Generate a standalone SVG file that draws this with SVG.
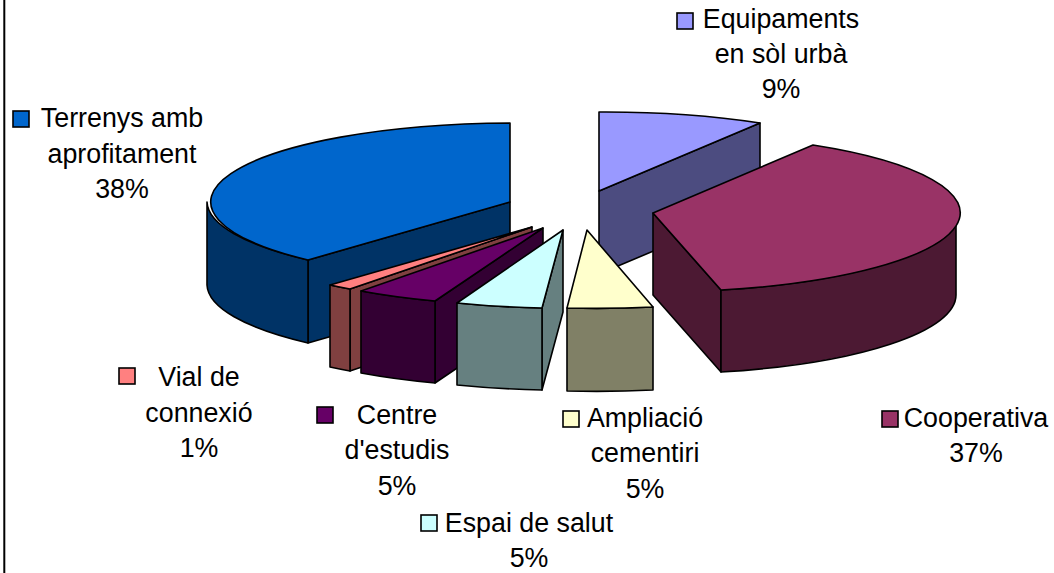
<svg xmlns="http://www.w3.org/2000/svg" width="1054" height="573" viewBox="0 0 1054 573">
<style>
.e{stroke:#000;stroke-width:1.6;stroke-linejoin:round}
.sq{stroke:#000;stroke-width:1.6}
text{font-family:"Liberation Sans",Arial,sans-serif;font-size:26.8px;fill:#000;text-anchor:middle}
</style>
<rect width="1054" height="573" fill="#fff"/>
<line x1="4.3" y1="0" x2="4.3" y2="573" stroke="#000" stroke-width="2"/>

<g id="slice-equipaments">
<polygon class="e" fill="#4C4C80" points="599,191 760,123 760,206 599,274"/>
<path class="e" fill="#9999FF" d="M599,191 L599,112 A303 79 0 0 1 760,123 Z"/>
</g>

<g id="slice-terrenys">
<polygon class="e" fill="#003366" points="510,202 308,260 308,343 510,285"/>
<path class="e" fill="#003366" d="M207,202 A303 79 0 0 0 308,260 L308,343 A303 79 0 0 1 207,285 Z"/>
<path class="e" fill="#0066CC" d="M510,202 L510,123 A303 79 0 0 0 308,260 Z"/>
</g>

<g id="slice-cooperativa">
<polygon class="e" fill="#4C1933" points="653,213 721,290 721,372 653,295"/>
<path class="e" fill="#4C1933" d="M956,213 A303 79 0 0 1 721,290 L721,372 A303 79 0 0 0 956,295 Z"/>
<path class="e" fill="#993366" d="M653,213 L813,145 A303 79 0 0 1 721,290 Z"/>
</g>

<g id="slice-vial">
<polygon class="e" fill="#804040" points="532,227 350,289 350,371 532,309"/>
<path class="e" fill="#804040" d="M350,289 A303 79 0 0 1 330,285 L330,367 A303 79 0 0 0 350,371 Z"/>
<path class="e" fill="#FF8080" d="M532,227 L350,289 A303 79 0 0 1 330,285 Z"/>
</g>

<g id="slice-centre">
<polygon class="e" fill="#330033" points="543,228 435,301 435,383 543,310"/>
<path class="e" fill="#330033" d="M435,301 A303 79 0 0 1 361,291 L361,373 A303 79 0 0 0 435,383 Z"/>
<path class="e" fill="#660066" d="M543,228 L435,301 A303 79 0 0 1 361,291 Z"/>
</g>

<g id="slice-espai">
<polygon class="e" fill="#668080" points="563,230 542,308 542,390 563,312"/>
<path class="e" fill="#668080" d="M542,308 A303 79 0 0 1 457,303 L457,385 A303 79 0 0 0 542,390 Z"/>
<path class="e" fill="#CCFFFF" d="M563,230 L542,308 A303 79 0 0 1 457,303 Z"/>
</g>

<g id="slice-ampliacio">
<path class="e" fill="#808066" d="M653,307 A303 79 0 0 1 567,308 L567,391 A303 79 0 0 0 653,390 Z"/>
<path class="e" fill="#FFFFCC" d="M587,230 L653,307 A303 79 0 0 1 567,308 Z"/>
</g>

<g id="label-terrenys">
<rect class="sq" x="13" y="111" width="16" height="16" fill="#0066CC"/>
<text x="122" y="127">Terrenys amb</text>
<text x="122" y="163">aprofitament</text>
<text x="122" y="198">38%</text>
</g>

<g id="label-equipaments">
<rect class="sq" x="677" y="13" width="16" height="16" fill="#9999FF"/>
<text x="781" y="28">Equipaments</text>
<text x="781" y="63">en sòl urbà</text>
<text x="781" y="98">9%</text>
</g>

<g id="label-vial">
<rect class="sq" x="119" y="368" width="16" height="16" fill="#FF8080"/>
<text x="199" y="386">Vial de</text>
<text x="199" y="422">connexió</text>
<text x="199" y="457">1%</text>
</g>

<g id="label-centre">
<rect class="sq" x="317" y="407" width="16" height="16" fill="#660066"/>
<text x="397" y="424">Centre</text>
<text x="397" y="459">d'estudis</text>
<text x="397" y="495">5%</text>
</g>

<g id="label-ampliacio">
<rect class="sq" x="563" y="411" width="16" height="16" fill="#FFFFCC"/>
<text x="645" y="427">Ampliació</text>
<text x="645" y="462">cementiri</text>
<text x="645" y="498">5%</text>
</g>

<g id="label-espai">
<rect class="sq" x="421" y="515" width="16" height="16" fill="#CCFFFF"/>
<text x="529" y="532">Espai de salut</text>
<text x="529" y="567">5%</text>
</g>

<g id="label-cooperativa">
<rect class="sq" x="882" y="411" width="16" height="16" fill="#993366"/>
<text x="976" y="427">Cooperativa</text>
<text x="976" y="462">37%</text>
</g>
</svg>
